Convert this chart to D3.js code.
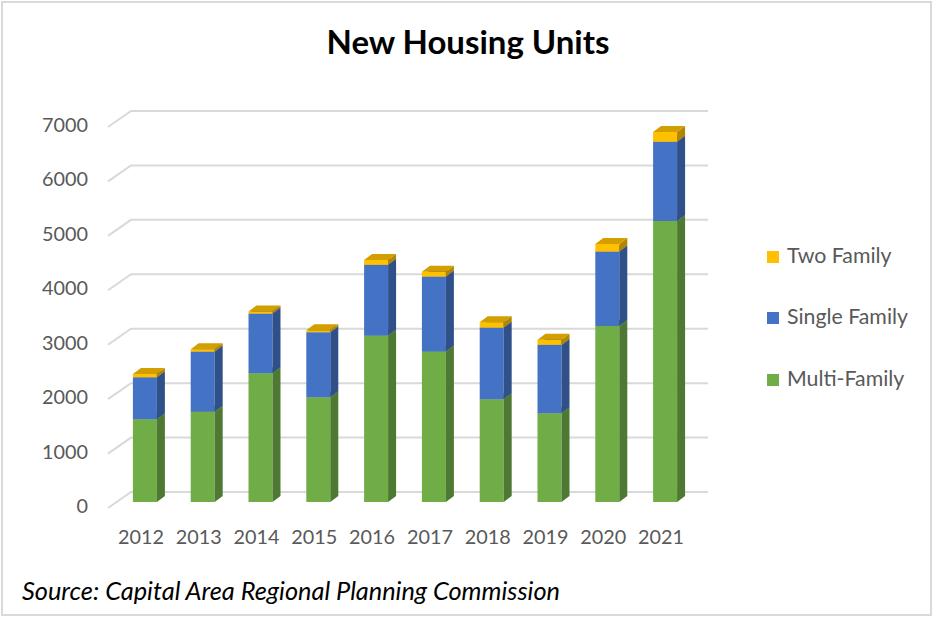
<!DOCTYPE html>
<html>
<head>
<meta charset="utf-8">
<script src="https://cdn.jsdelivr.net/npm/d3@7"></script>
<style>
  body { margin: 0; background: #fff; }
  svg { display: block; font-family: Lato, "Open Sans", sans-serif; }
</style>
</head>
<body>
<div id="chart"></div>
<script>
// values
const years = ["2012", "2013", "2014", "2015", "2016", "2017", "2018", "2019", "2020", "2021"];
const multiFamily = [1520, 1660, 2366, 1925, 3057, 2763, 1888, 1630, 3235, 5165];
const singleFamily = [772, 1103, 1095, 1194, 1300, 1378, 1316, 1256, 1366, 1453];
const twoFamily = [60, 45, 40, 35, 90, 90, 100, 95, 140, 180];
const seriesNames = ["Multi-Family", "Single Family", "Two Family"];
const seriesColors = ["#70ad47", "#4472c4", "#ffc000"];
const yTicks = [0, 1000, 2000, 3000, 4000, 5000, 6000, 7000];

const width = 933, height = 618;
const depth = { dx: 8, dy: -6 };       // bar side / top offset
const wallShift = { dx: 14, dy: -10 };  // bar front -> back wall
const floorShift = { dx: -23, dy: 16 }; // back wall -> front of floor

const svg = d3.select("#chart").append("svg")
  .attr("width", width)
  .attr("height", height);

svg.append("rect")
  .attr("x", 2).attr("y", 2)
  .attr("width", width - 4).attr("height", height - 5)
  .attr("fill", "#fff")
  .attr("stroke", "#d9d9d9")
  .attr("stroke-width", 2);

// scales for the front face of the bars
const x = d3.scaleBand()
  .domain(years)
  .range([116, 694])
  .paddingInner(0.585)
  .paddingOuter(0.2925);

const y = d3.scaleLinear()
  .domain([0, 7000])
  .range([502, 121]);

// fit a text element to a given width
function fitWidth(sel, target) {
  const node = sel.node();
  const fs = parseFloat(sel.attr("font-size"));
  const w = node.getComputedTextLength();
  sel.attr("font-size", (fs * target / w).toFixed(2));
  return sel;
}

// gridlines on the back wall, with the floor diagonal
const grid = svg.append("g").attr("class", "grid");
const gx0 = x.range()[0] + wallShift.dx + 1, gx1 = 708;
yTicks.forEach(t => {
  const yb = y(t) + wallShift.dy;
  grid.append("path")
    .attr("d", `M${gx0 + floorShift.dx},${yb + floorShift.dy}L${gx0},${yb}L${gx1},${yb}`)
    .attr("fill", "none")
    .attr("stroke", "#d9d9d9")
    .attr("stroke-width", 2);
});

// y axis labels
const yLab = svg.append("g").attr("class", "y-labels");
yTicks.forEach(t => {
  yLab.append("text")
    .attr("x", 88)
    .attr("y", y(t) + 6)
    .attr("text-anchor", "end")
    .attr("dominant-baseline", "middle")
    .attr("font-size", 20)
    .attr("fill", "#595959")
    .text(t);
});
const probe = yLab.select("text:last-child");
fitWidth(probe, 46);
const axisFont = probe.attr("font-size");
yLab.selectAll("text").attr("font-size", axisFont);

// x axis labels
svg.append("g").attr("class", "x-labels")
  .selectAll("text")
  .data(years)
  .join("text")
  .attr("x", d => x(d) + x.bandwidth() / 2 - 4)
  .attr("y", 539)
  .attr("text-anchor", "middle")
  .attr("dominant-baseline", "middle")
  .attr("font-size", axisFont)
  .attr("fill", "#595959")
  .text(d => d);

// stacked 3D bars
const table = years.map((yr, i) => ({
  year: yr,
  "Multi-Family": multiFamily[i],
  "Single Family": singleFamily[i],
  "Two Family": twoFamily[i]
}));
const stacked = d3.stack().keys(seriesNames)(table);
const color = d3.scaleOrdinal(seriesNames, seriesColors);

const bars = svg.append("g").attr("class", "bars");
const w = x.bandwidth();
years.forEach((yr, i) => {
  const g = bars.append("g");
  stacked.forEach(s => {
    const d = s[i];
    const x0 = x(yr), yT = y(d[1]), yB = y(d[0]);
    const c = d3.color(color(s.key));
    g.append("rect")
      .attr("x", x0).attr("y", yT)
      .attr("width", w).attr("height", yB - yT)
      .attr("fill", c);
    g.append("path")
      .attr("d", `M${x0 + w},${yT}L${x0 + w + depth.dx},${yT + depth.dy}L${x0 + w + depth.dx},${yB + depth.dy}L${x0 + w},${yB}Z`)
      .attr("fill", c.darker(1));
    g.append("path")
      .attr("d", `M${x0},${yT}L${x0 + depth.dx},${yT + depth.dy}L${x0 + w + depth.dx},${yT + depth.dy}L${x0 + w},${yT}Z`)
      .attr("fill", c.darker(0.55));
  });
});

// legend
const legendY = [380, 318, 257];
const legend = svg.append("g").attr("class", "legend");
seriesNames.forEach((name, i) => {
  legend.append("rect")
    .attr("x", 767).attr("y", legendY[i] - 6)
    .attr("width", 12).attr("height", 12)
    .attr("fill", seriesColors[i]);
  legend.append("text")
    .attr("x", 787).attr("y", legendY[i] + 1)
    .attr("dominant-baseline", "middle")
    .attr("font-size", 20)
    .attr("fill", "#595959")
    .text(name);
});
const legProbe = legend.selectAll("text").filter(function() { return this.textContent === "Single Family"; });
fitWidth(legProbe, 121);
legend.selectAll("text").attr("font-size", legProbe.attr("font-size"));

// title
const title = svg.append("text")
  .attr("x", 468).attr("y", 46)
  .attr("text-anchor", "middle")
  .attr("dominant-baseline", "middle")
  .attr("font-size", 26)
  .attr("font-weight", "bold")
  .attr("fill", "#000")
  .text("New Housing Units");
fitWidth(title, 283);

// source note
const source = svg.append("text")
  .attr("x", 22).attr("y", 594)
  .attr("dominant-baseline", "middle")
  .attr("font-size", 22)
  .attr("font-style", "italic")
  .attr("fill", "#000")
  .text("Source: Capital Area Regional Planning Commission");
fitWidth(source, 538);
</script>
</body>
</html>
